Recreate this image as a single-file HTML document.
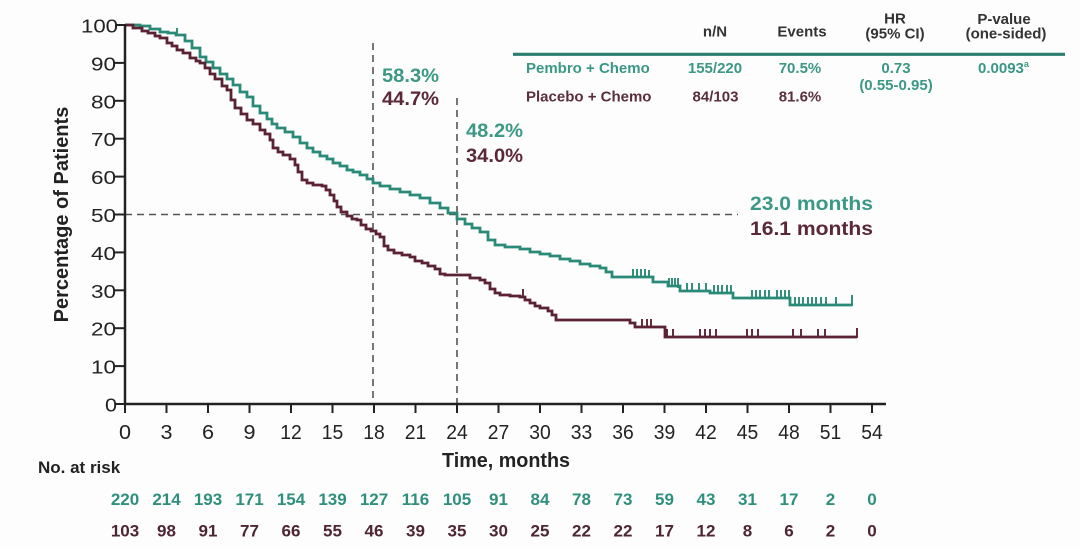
<!DOCTYPE html>
<html><head><meta charset="utf-8"><style>
html,body{margin:0;padding:0;background:#fdfdfd;}
svg{display:block;font-family:"Liberation Sans",Arial,sans-serif;}
</style></head><body>
<svg width="1080" height="548" viewBox="0 0 1080 548" xmlns="http://www.w3.org/2000/svg">
<rect width="1080" height="548" fill="#fdfdfd"/>

<!-- dashed reference lines -->
<g stroke="#555" stroke-width="1.6" stroke-dasharray="7,5" fill="none">
<line x1="125" y1="214.5" x2="738" y2="214.5"/>
<line x1="373" y1="43" x2="373" y2="404"/>
<line x1="457" y1="98" x2="457" y2="404"/>
</g>

<!-- curves -->
<path fill="none" stroke="#2a8a78" stroke-width="2.8" d="M125,25 H140 V26 H150 V29 H160 V32 H168 V33 H176 V35 H185 V41 H192 V48 H200 V57 H206 V62 H213 V68 H220 V74 H227 V79 H233 V85 H240 V92 H247 V97 H253 V106 H260 V113 H267 V119 H272 V124 H277 V128 H285 V132 H293 V137 H300 V143 H307 V148 H313 V152 H320 V156 H327 V159 H333 V163 H340 V166 H347 V170 H353 V172 H360 V175 H367 V179 H373 V183 H380 V186 H390 V189 H400 V192 H410 V195 H420 V198 H430 V203 H440 V208 H448 V213 H457 V219 H465 V224 H472 V228 H480 V232 H488 V240 H495 V245 H505 V247 H520 V249 H530 V252 H540 V254 H550 V256 H560 V259 H570 V261 H580 V264 H590 V266 H600 V268 H606 V272 H612 V277 H653 V282 H668 V286 H680 V291 H710 V293 H733 V298 H790 V305 H852"/>
<path fill="none" stroke="#5a2233" stroke-width="2.8" d="M125,25 H133 V28 H142 V31 H148 V33 H155 V36 H160 V38 H167 V43 H172 V46 H177 V50 H183 V53 H190 V58 H196 V61 H200 V63 H205 V68 H210 V74 H215 V79 H222 V86 H227 V90 H231 V100 H235 V108 H241 V114 H247 V120 H253 V124 H260 V130 H265 V134 H270 V140 H273 V148 H278 V152 H283 V155 H290 V159 H295 V165 H298 V172 H302 V180 H307 V183 H313 V185 H322 V186 H326 V190 H330 V195 H334 V201 H337 V207 H341 V212 H347 V216 H352 V219 H357 V220 H361 V225 H366 V229 H371 V231 H376 V234 H380 V237 H384 V246 H388 V250 H394 V253 H402 V255 H410 V257 H415 V261 H422 V263 H428 V266 H435 V269 H440 V274 H445 V275 H470 V278 H480 V280 H485 V283 H490 V289 H495 V293 H500 V295 H510 V296 H520 V297 H525 V300 H530 V303 H535 V306 H540 V308 H548 V311 H552 V315 H556 V320 H630 V323 H635 V327 H665 V337 H857"/>

<!-- censor ticks teal -->
<g stroke="#2a8a78" stroke-width="1.9">
<line x1="177" y1="28" x2="177" y2="36"/>
<line x1="633" y1="269" x2="633" y2="277"/><line x1="637" y1="269" x2="637" y2="277"/><line x1="641" y1="269" x2="641" y2="277"/><line x1="645" y1="269" x2="645" y2="277"/><line x1="649" y1="270" x2="649" y2="277"/>
<line x1="669" y1="278" x2="669" y2="286"/><line x1="672" y1="278" x2="672" y2="286"/><line x1="675" y1="278" x2="675" y2="286"/><line x1="678" y1="278" x2="678" y2="288"/>
<line x1="687" y1="283" x2="687" y2="291"/><line x1="692" y1="283" x2="692" y2="291"/><line x1="699" y1="283" x2="699" y2="291"/><line x1="706" y1="283" x2="706" y2="291"/>
<line x1="714" y1="285" x2="714" y2="293"/><line x1="718" y1="285" x2="718" y2="293"/><line x1="722" y1="285" x2="722" y2="293"/><line x1="727" y1="285" x2="727" y2="293"/><line x1="731" y1="285" x2="731" y2="293"/>
<line x1="752" y1="290" x2="752" y2="298"/><line x1="756" y1="290" x2="756" y2="298"/><line x1="760" y1="290" x2="760" y2="298"/><line x1="765" y1="290" x2="765" y2="298"/><line x1="769" y1="290" x2="769" y2="298"/><line x1="777" y1="290" x2="777" y2="298"/><line x1="781" y1="290" x2="781" y2="298"/><line x1="785" y1="290" x2="785" y2="298"/><line x1="789" y1="290" x2="789" y2="298"/>
<line x1="795" y1="297" x2="795" y2="305"/><line x1="799" y1="297" x2="799" y2="305"/><line x1="803" y1="297" x2="803" y2="305"/><line x1="808" y1="297" x2="808" y2="305"/><line x1="812" y1="297" x2="812" y2="305"/><line x1="816" y1="297" x2="816" y2="305"/><line x1="821" y1="297" x2="821" y2="305"/><line x1="826" y1="297" x2="826" y2="305"/><line x1="836" y1="297" x2="836" y2="305"/><line x1="852" y1="295" x2="852" y2="306"/>
</g>
<!-- censor ticks maroon -->
<g stroke="#5a2233" stroke-width="1.9">
<line x1="523" y1="289" x2="523" y2="297"/>
<line x1="642" y1="319" x2="642" y2="327"/><line x1="647" y1="319" x2="647" y2="327"/><line x1="651" y1="319" x2="651" y2="327"/>
<line x1="667" y1="329" x2="667" y2="337"/><line x1="673" y1="329" x2="673" y2="337"/><line x1="700" y1="329" x2="700" y2="337"/><line x1="705" y1="329" x2="705" y2="337"/><line x1="710" y1="329" x2="710" y2="337"/><line x1="716" y1="329" x2="716" y2="337"/><line x1="747" y1="329" x2="747" y2="337"/><line x1="752" y1="329" x2="752" y2="337"/><line x1="758" y1="329" x2="758" y2="337"/><line x1="793" y1="329" x2="793" y2="337"/><line x1="801" y1="329" x2="801" y2="337"/><line x1="818" y1="329" x2="818" y2="337"/><line x1="825" y1="329" x2="825" y2="337"/><line x1="857" y1="328" x2="857" y2="338"/>
</g>

<!-- axes -->
<path d="M125,24 V404 H886" fill="none" stroke="#222" stroke-width="2.5"/>
<g stroke="#222" stroke-width="2">
<line x1="115" y1="404" x2="125" y2="404"/><line x1="115" y1="366.1" x2="125" y2="366.1"/><line x1="115" y1="328.2" x2="125" y2="328.2"/><line x1="115" y1="290.3" x2="125" y2="290.3"/><line x1="115" y1="252.4" x2="125" y2="252.4"/><line x1="115" y1="214.5" x2="125" y2="214.5"/><line x1="115" y1="176.6" x2="125" y2="176.6"/><line x1="115" y1="138.7" x2="125" y2="138.7"/><line x1="115" y1="100.8" x2="125" y2="100.8"/><line x1="115" y1="62.9" x2="125" y2="62.9"/><line x1="115" y1="25" x2="125" y2="25"/>
<line x1="125" y1="404" x2="125" y2="413"/><line x1="166.5" y1="404" x2="166.5" y2="413"/><line x1="208" y1="404" x2="208" y2="413"/><line x1="249.5" y1="404" x2="249.5" y2="413"/><line x1="291" y1="404" x2="291" y2="413"/><line x1="332.5" y1="404" x2="332.5" y2="413"/><line x1="374" y1="404" x2="374" y2="413"/><line x1="415.5" y1="404" x2="415.5" y2="413"/><line x1="457" y1="404" x2="457" y2="413"/><line x1="498.5" y1="404" x2="498.5" y2="413"/><line x1="540" y1="404" x2="540" y2="413"/><line x1="581.5" y1="404" x2="581.5" y2="413"/><line x1="623" y1="404" x2="623" y2="413"/><line x1="664.5" y1="404" x2="664.5" y2="413"/><line x1="706" y1="404" x2="706" y2="413"/><line x1="747.5" y1="404" x2="747.5" y2="413"/><line x1="789" y1="404" x2="789" y2="413"/><line x1="830.5" y1="404" x2="830.5" y2="413"/><line x1="872" y1="404" x2="872" y2="413"/>
</g>

<!-- y tick labels -->
<g font-size="18" fill="#222" text-anchor="end">
<text x="117" y="411.5" textLength="12" lengthAdjust="spacingAndGlyphs">0</text>
<text x="116" y="373.6" textLength="25" lengthAdjust="spacingAndGlyphs">10</text>
<text x="116" y="335.7" textLength="25" lengthAdjust="spacingAndGlyphs">20</text>
<text x="116" y="297.8" textLength="25" lengthAdjust="spacingAndGlyphs">30</text>
<text x="116" y="259.9" textLength="25" lengthAdjust="spacingAndGlyphs">40</text>
<text x="116" y="222" textLength="25" lengthAdjust="spacingAndGlyphs">50</text>
<text x="116" y="184.1" textLength="25" lengthAdjust="spacingAndGlyphs">60</text>
<text x="116" y="146.2" textLength="25" lengthAdjust="spacingAndGlyphs">70</text>
<text x="116" y="108.3" textLength="25" lengthAdjust="spacingAndGlyphs">80</text>
<text x="116" y="70.4" textLength="25" lengthAdjust="spacingAndGlyphs">90</text>
<text x="118" y="32.5" textLength="37" lengthAdjust="spacingAndGlyphs">100</text>
</g>

<!-- x tick labels -->
<g font-size="20" fill="#222" text-anchor="middle">
<text x="125" y="439" textLength="12" lengthAdjust="spacingAndGlyphs">0</text>
<text x="166.5" y="439" textLength="12" lengthAdjust="spacingAndGlyphs">3</text>
<text x="208" y="439" textLength="12" lengthAdjust="spacingAndGlyphs">6</text>
<text x="249.5" y="439" textLength="12" lengthAdjust="spacingAndGlyphs">9</text>
<text x="291" y="439" textLength="21.5" lengthAdjust="spacingAndGlyphs">12</text>
<text x="332.5" y="439" textLength="21.5" lengthAdjust="spacingAndGlyphs">15</text>
<text x="374" y="439" textLength="21.5" lengthAdjust="spacingAndGlyphs">18</text>
<text x="415.5" y="439" textLength="21.5" lengthAdjust="spacingAndGlyphs">21</text>
<text x="457" y="439" textLength="21.5" lengthAdjust="spacingAndGlyphs">24</text>
<text x="498.5" y="439" textLength="21.5" lengthAdjust="spacingAndGlyphs">27</text>
<text x="540" y="439" textLength="21.5" lengthAdjust="spacingAndGlyphs">30</text>
<text x="581.5" y="439" textLength="21.5" lengthAdjust="spacingAndGlyphs">33</text>
<text x="623" y="439" textLength="21.5" lengthAdjust="spacingAndGlyphs">36</text>
<text x="664.5" y="439" textLength="21.5" lengthAdjust="spacingAndGlyphs">39</text>
<text x="706" y="439" textLength="21.5" lengthAdjust="spacingAndGlyphs">42</text>
<text x="747.5" y="439" textLength="21.5" lengthAdjust="spacingAndGlyphs">45</text>
<text x="789" y="439" textLength="21.5" lengthAdjust="spacingAndGlyphs">48</text>
<text x="830.5" y="439" textLength="21.5" lengthAdjust="spacingAndGlyphs">51</text>
<text x="872" y="439" textLength="21.5" lengthAdjust="spacingAndGlyphs">54</text>
</g>

<!-- axis titles -->
<text transform="translate(68,214.5) rotate(-90)" text-anchor="middle" font-size="20" font-weight="bold" fill="#222">Percentage of Patients</text>
<text x="442" y="467" font-size="20" font-weight="bold" fill="#222" textLength="128" lengthAdjust="spacingAndGlyphs">Time, months</text>
<text x="38" y="473" font-size="17" font-weight="bold" fill="#222">No. at risk</text>

<!-- annotations -->
<g font-size="19" font-weight="bold">
<text x="382" y="82" fill="#3a9884" textLength="57" lengthAdjust="spacingAndGlyphs">58.3%</text>
<text x="382" y="105" fill="#5a2838" textLength="57" lengthAdjust="spacingAndGlyphs">44.7%</text>
<text x="466" y="137" fill="#3a9884" textLength="57" lengthAdjust="spacingAndGlyphs">48.2%</text>
<text x="466" y="162" fill="#5a2838" textLength="57" lengthAdjust="spacingAndGlyphs">34.0%</text>
<text x="750" y="210" fill="#3a9884" textLength="123" lengthAdjust="spacingAndGlyphs">23.0 months</text>
<text x="750" y="235" fill="#5a2838" textLength="123" lengthAdjust="spacingAndGlyphs">16.1 months</text>
</g>

<!-- table -->
<g font-size="15" font-weight="bold" fill="#333" text-anchor="middle">
<text x="715" y="36.5">n/N</text>
<text x="802" y="36.5">Events</text>
<text x="895" y="23.5">HR</text>
<text x="895" y="38.5">(95% CI)</text>
<text x="1004" y="24">P-value</text>
<text x="1006" y="38.5">(one-sided)</text>
</g>
<line x1="513" y1="54.3" x2="1065" y2="54.3" stroke="#2a7d70" stroke-width="3.2"/>
<g font-size="15" font-weight="bold" fill="#3a9884">
<text x="526" y="73">Pembro + Chemo</text>
<text x="715" y="73" text-anchor="middle">155/220</text>
<text x="800" y="73" text-anchor="middle">70.5%</text>
<text x="896" y="73" text-anchor="middle">0.73</text>
<text x="896" y="90" text-anchor="middle">(0.55-0.95)</text>
<text x="978" y="73">0.0093<tspan font-size="9" dy="-6">a</tspan></text>
</g>
<g font-size="15" font-weight="bold" fill="#5a2e3d">
<text x="526" y="101.5">Placebo + Chemo</text>
<text x="715.5" y="101.5" text-anchor="middle">84/103</text>
<text x="800" y="101.5" text-anchor="middle">81.6%</text>
</g>

<!-- number at risk -->
<g font-size="17" font-weight="bold" fill="#2f8f7d" text-anchor="middle">
<text x="125" y="505">220</text><text x="166.5" y="505">214</text><text x="208" y="505">193</text><text x="249.5" y="505">171</text><text x="291" y="505">154</text><text x="332.5" y="505">139</text><text x="374" y="505">127</text><text x="415.5" y="505">116</text><text x="457" y="505">105</text><text x="498.5" y="505">91</text><text x="540" y="505">84</text><text x="581.5" y="505">78</text><text x="623" y="505">73</text><text x="664.5" y="505">59</text><text x="706" y="505">43</text><text x="747.5" y="505">31</text><text x="789" y="505">17</text><text x="830.5" y="505">2</text><text x="872" y="505">0</text>
</g>
<g font-size="17" font-weight="bold" fill="#4e2535" text-anchor="middle">
<text x="125" y="536.5">103</text><text x="166.5" y="536.5">98</text><text x="208" y="536.5">91</text><text x="249.5" y="536.5">77</text><text x="291" y="536.5">66</text><text x="332.5" y="536.5">55</text><text x="374" y="536.5">46</text><text x="415.5" y="536.5">39</text><text x="457" y="536.5">35</text><text x="498.5" y="536.5">30</text><text x="540" y="536.5">25</text><text x="581.5" y="536.5">22</text><text x="623" y="536.5">22</text><text x="664.5" y="536.5">17</text><text x="706" y="536.5">12</text><text x="747.5" y="536.5">8</text><text x="789" y="536.5">6</text><text x="830.5" y="536.5">2</text><text x="872" y="536.5">0</text>
</g>
</svg>
</body></html>
